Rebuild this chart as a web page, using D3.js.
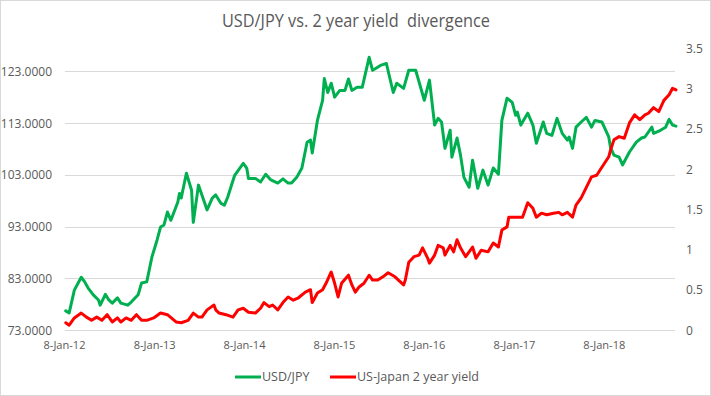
<!DOCTYPE html>
<html><head><meta charset="utf-8">
<script src="https://cdn.jsdelivr.net/npm/d3@7"></script>
<style>
body{margin:0;background:#fff;}
text{font-family:"Open Sans",sans-serif;fill:#595959;}
</style></head>
<body>
<svg id="c" width="711" height="396"></svg>
<script>
// ---- data ----
const startDate = "2012-01-08";
const xTickLabels = ["2012-01-08","2013-01-08","2014-01-08","2015-01-08","2016-01-08","2017-01-08","2018-01-08"];
const leftTicks = [73,83,93,103,113,123];
const rightTicks = [0,0.5,1,1.5,2,2.5,3,3.5];
const seriesNames = ["USD/JPY","US-Japan 2 year yield"];
// week offsets from start date
const usdjpyWeeks = [1,3,6,10,12,14,17,20,21,24,26,28,31,33,37,39,43,45,48,51,54,56,58,60,62,66,67,68,71,74,75,78,80,83,86,88,91,93,95,99,104,106,107,111,114,117,120,124,127,130,132,135,138,141,143,144,147,150,151,153,155,157,160,163,165,167,170,173,177,179,181,184,187,191,193,197,200,204,206,209,212,215,217,219,221,224,225,228,230,232,235,237,240,243,246,249,252,254,257,260,262,263,265,266,269,272,274,278,280,283,286,289,292,293,295,297,300,303,306,308,312,316,317,319,322,324,328,332,335,337,341,342,346,349,351,353,355];
const usdjpyValues = [76.7,76.3,80.7,83.2,82.3,81.1,79.8,78.8,77.8,79.9,78.8,78.2,79.2,78.2,77.8,78.4,79.8,82.1,82.3,87.1,90.4,92.9,93.3,95.8,94.2,97.7,99.4,98.5,103.3,100.0,93.8,101.0,99.1,96.2,98.5,99.1,97.5,97.1,98.7,102.9,105.2,104.3,102.3,102.3,101.6,103.1,102.0,101.4,102.2,101.4,101.4,102.5,104.3,109.3,109.7,107.2,113.5,117.4,121.6,118.9,120.7,118.0,119.3,119.3,121.5,119.3,119.9,119.9,125.7,123.2,123.6,124.2,124.5,118.9,120.7,119.7,123.2,123.2,120.9,117.4,121.3,112.6,113.9,113.2,108.1,111.6,106.4,110.1,106.8,102.5,100.6,105.8,100.4,103.9,101.0,104.3,103.1,113.5,117.8,117.0,114.5,115.1,112.6,113.2,114.9,112.6,109.1,113.2,111.0,110.6,113.9,111.0,109.7,110.3,108.1,112.2,113.2,114.1,112.2,113.5,113.2,110.3,108.3,106.8,106.4,104.9,107.4,109.3,110.1,110.3,112.2,111.0,111.6,112.2,113.7,112.6,112.4];
const yieldWeeks = [1,3,6,10,13,16,19,22,25,28,31,33,36,39,42,45,48,52,56,60,65,68,72,75,78,80,83,87,88,90,94,98,101,104,107,111,114,116,119,121,124,127,130,133,136,140,143,144,147,150,152,155,157,159,161,165,167,169,171,174,177,179,182,185,188,192,194,197,198,200,203,206,208,211,212,215,217,220,221,224,226,228,230,233,237,239,242,246,249,252,254,257,258,262,266,269,272,274,277,280,284,287,289,292,295,297,300,303,306,309,312,316,317,319,322,325,328,331,334,337,339,342,345,348,351,353,355];
const yieldValues = [0.09,0.06,0.15,0.21,0.16,0.12,0.16,0.12,0.19,0.10,0.15,0.10,0.15,0.12,0.19,0.12,0.12,0.15,0.21,0.19,0.10,0.09,0.12,0.21,0.16,0.16,0.25,0.31,0.25,0.21,0.19,0.16,0.25,0.27,0.22,0.21,0.27,0.34,0.29,0.31,0.25,0.34,0.41,0.37,0.40,0.47,0.50,0.34,0.46,0.50,0.58,0.72,0.58,0.41,0.58,0.68,0.56,0.47,0.53,0.58,0.68,0.62,0.62,0.66,0.71,0.66,0.62,0.56,0.62,0.84,0.91,0.93,1.02,0.89,0.83,0.93,1.05,1.02,0.93,1.05,0.97,1.12,1.02,0.91,1.03,0.89,0.99,0.97,1.08,1.03,1.24,1.28,1.40,1.40,1.40,1.58,1.51,1.40,1.45,1.43,1.45,1.46,1.43,1.46,1.40,1.55,1.64,1.77,1.90,1.92,2.02,2.15,2.23,2.36,2.40,2.38,2.57,2.67,2.61,2.67,2.69,2.76,2.71,2.85,2.92,3.00,2.98];

// ---- chart ----
const svg = d3.select("#c");
const W = 711, H = 396;
const plot = {l:64, r:675, t:48, b:330};
const parse = d3.utcParse("%Y-%m-%d");
const t0 = parse(startDate);
const endDate = d3.utcDay.offset(t0, 2481);
const x = d3.scaleUtc().domain([t0, endDate]).range([plot.l, plot.r]);
const yL = d3.scaleLinear().domain([73, 127.5]).range([plot.b, plot.t]);
const yR = d3.scaleLinear().domain([0, 3.5]).range([plot.b, plot.t]);
const colors = ["#00B050", "#FF0000"];

svg.append("rect").attr("x",0.5).attr("y",0.5).attr("width",W-1).attr("height",H-1)
  .attr("fill","#fff").attr("stroke","#d9d9d9");

// gridlines (left axis)
svg.append("g").selectAll("line").data(leftTicks).join("line")
  .attr("x1", plot.l+1).attr("x2", plot.r)
  .attr("y1", d=>Math.round(yL(d))+0.5).attr("y2", d=>Math.round(yL(d))+0.5)
  .attr("stroke","#d9d9d9").attr("stroke-width",1);

// left axis labels
const gL = svg.append("g").attr("transform",`translate(${plot.l-9},0)`)
  .call(d3.axisLeft(yL).tickValues(leftTicks).tickSize(0).tickFormat(d3.format(".4f")));
gL.select(".domain").remove();
gL.selectAll("text").attr("font-size",12).attr("dy","0.35em").style("fill","#595959");

// right axis labels
const gR = svg.append("g").attr("transform",`translate(${plot.r+11},0)`)
  .call(d3.axisRight(yR).tickValues(rightTicks).tickSize(0).tickFormat(d3.format("")));
gR.select(".domain").remove();
gR.selectAll("text").attr("font-size",12).attr("dy","0.35em").attr("x",0).style("fill","#595959");

// bottom axis labels
const gB = svg.append("g").attr("transform",`translate(0,${plot.b})`)
  .call(d3.axisBottom(x).tickValues(xTickLabels.map(parse)).tickSize(0).tickFormat(d3.utcFormat("%-d-%b-%y")));
gB.select(".domain").remove();
gB.selectAll("text").attr("font-size",11.5).attr("y",11).attr("dy","0.71em").style("fill","#595959")
  .attr("textLength",42).attr("lengthAdjust","spacingAndGlyphs");

// lines
function mk(weeks, vals){ return weeks.map((w,i)=>({d:d3.utcWeek.offset(t0,w), v:vals[i]})); }
const g1 = mk(usdjpyWeeks, usdjpyValues);
const g2 = mk(yieldWeeks, yieldValues);
svg.append("path").datum(g1).attr("fill","none").attr("stroke",colors[0]).attr("stroke-width",3)
  .attr("stroke-linejoin","round").attr("stroke-linecap","round")
  .attr("d", d3.line().x(d=>x(d.d)).y(d=>yL(d.v)));
svg.append("path").datum(g2).attr("fill","none").attr("stroke",colors[1]).attr("stroke-width",3)
  .attr("stroke-linejoin","round").attr("stroke-linecap","round")
  .attr("d", d3.line().x(d=>x(d.d)).y(d=>yR(d.v)));

// title
svg.append("text").attr("x",356).attr("y",27).attr("text-anchor","middle")
  .attr("font-size",18.5).attr("textLength",268).attr("lengthAdjust","spacingAndGlyphs")
  .style("white-space","pre").text("USD/JPY vs. 2 year yield  divergence");

// legend
const leg = [{x:235, name:seriesNames[0], c:colors[0]},{x:330, name:seriesNames[1], c:colors[1]}];
const lg = svg.append("g");
leg.forEach(l=>{
  lg.append("line").attr("x1",l.x).attr("x2",l.x+26).attr("y1",377).attr("y2",377)
    .attr("stroke",l.c).attr("stroke-width",3);
  lg.append("text").attr("x",l.x+27).attr("y",377).attr("dy","0.35em").attr("font-size",12.5).text(l.name);
});
</script>
</body></html>
